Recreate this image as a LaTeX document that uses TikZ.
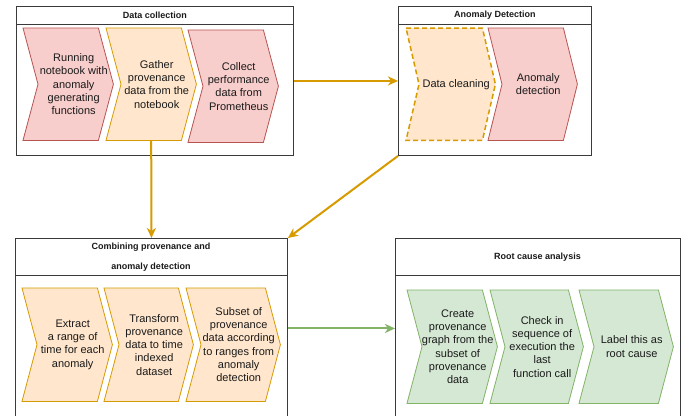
\documentclass[tikz,border=0pt]{standalone}
\usepackage{fontspec}
\setmainfont{Liberation Sans}
\usetikzlibrary{arrows.meta,backgrounds}
\definecolor{redfill}{HTML}{F8CECC}
\definecolor{redline}{HTML}{B85450}
\definecolor{orfill}{HTML}{FFE6CC}
\definecolor{orline}{HTML}{D79B00}
\definecolor{grfill}{HTML}{D5E8D4}
\definecolor{grline}{HTML}{82B366}
\definecolor{boxline}{HTML}{3A3A3A}
\definecolor{txt}{HTML}{1A1A1A}
\tikzset{
  lane/.style={draw=boxline, line width=0.9pt, fill=white, inner sep=0pt, anchor=north west},
  lanetitle/.style={font=\fontsize{9}{11}\selectfont\bfseries, text=txt, inner sep=0pt, align=center},
  chevbox/.style={inner sep=0pt, anchor=north west},
  redchev/.style={fill=redfill, draw=redline, line width=0.8pt, line join=miter},
  orchev/.style={fill=orfill, draw=orline, line width=0.8pt},
  orchevdash/.style={fill=orfill, draw=orline, line width=1.5pt, dash pattern=on 5pt off 3pt},
  grchev/.style={fill=grfill, draw=grline, line width=0.8pt},
  ctext/.style={font=\fontsize{11}{13.3}\selectfont, text=txt, align=center, inner sep=0pt},
  orarrow/.style={draw=orline, line width=2pt, -{Stealth[length=10pt,width=9pt,inset=3pt]}},
  grarrow/.style={draw=grline, line width=2pt, -{Stealth[length=10pt,width=9pt,inset=3pt]}},
}
% #1 name, #2 style, #3 left, #4 top, #5 total width, #6 height, #7 depth, #8 text
\newcommand\mychev[8]{%
  \node[chevbox, minimum width=#5, minimum height=#6] (#1) at (#3,#4) {};
  \draw[#2] (#1.north west) -- ([xshift=-#7pt]#1.north east) -- (#1.east)
     -- ([xshift=-#7pt]#1.south east) -- (#1.south west) -- ([xshift=#7pt]#1.west) -- cycle;
  \node[ctext] (#1-t) at ([xshift=5.5pt]#1.center) {#8};
}
\begin{document}
\begin{tikzpicture}[x=1pt,y=-1pt]
\useasboundingbox[fill=white] (0,0) rectangle (696,415);

% ---------- Data collection ----------
\node[lane, minimum width=277, minimum height=149] (dc) at (16,6) {};
\draw[boxline, line width=0.9pt] ([yshift=-18pt]dc.north west) -- ([yshift=-18pt]dc.north east);
\node[lanetitle] (dct) at ([yshift=-9.5pt]dc.north) {Data collection};
\mychev{c1}{redchev}{23}{28}{90}{112}{15}{Running\\notebook with\\anomaly\\generating\\functions}
\mychev{c2}{orchev}{106}{28}{90}{112}{15}{Gather\\provenance\\data from the\\notebook}
\mychev{c3}{redchev}{188}{30}{90}{112}{15}{Collect\\performance\\data from\\Prometheus}

% ---------- Anomaly Detection ----------
\node[lane, minimum width=193, minimum height=149] (ad) at (398,6) {};
\draw[boxline, line width=0.9pt] ([yshift=-18pt]ad.north west) -- ([yshift=-18pt]ad.north east);
\node[lanetitle] (adt) at ([yshift=-9.5pt]ad.north) {Anomaly Detection};
\mychev{a1}{orchevdash}{406}{28}{89}{112}{13}{Data cleaning}
\mychev{a2}{redchev}{488}{28}{89}{112}{14}{Anomaly\\detection}

% ---------- Combining ----------
\node[lane, minimum width=272, minimum height=180] (cb) at (15,238) {};
\draw[boxline, line width=0.9pt] ([yshift=-37pt]cb.north west) -- ([yshift=-37pt]cb.north east);
\node[lanetitle] (cbt1) at (151,247.5) {Combining provenance and};
\node[lanetitle] (cbt2) at (151,267.5) {anomaly detection};
\mychev{b1}{orchev}{22}{288}{90}{113}{15}{Extract\\a range of\\time for each\\anomaly}
\mychev{b2}{orchev}{104}{288}{89}{113}{15}{Transform\\provenance\\data to time\\indexed\\dataset}
\mychev{b3}{orchev}{186}{288}{94}{113}{15}{Subset of\\provenance\\data according\\to ranges from\\anomaly\\detection}

% ---------- Root cause analysis ----------
\node[lane, minimum width=285, minimum height=180] (rc) at (395,238) {};
\draw[boxline, line width=0.9pt] ([yshift=-37pt]rc.north west) -- ([yshift=-37pt]rc.north east);
\node[lanetitle] (rct) at (537.5,257) {Root cause analysis};
\mychev{r1}{grchev}{407}{290}{90}{113}{15}{Create\\provenance\\graph from the\\subset of\\provenance\\data}
\mychev{r2}{grchev}{490}{290}{93}{113}{15}{Check in\\sequence of\\execution the\\last\\function call}
\mychev{r3}{grchev}{579}{290}{94}{113}{15}{Label this as\\root cause}

% ---------- connectors ----------
\draw[orarrow] (dc.east) -- (ad.west);
\draw[orarrow] (c2.south) -- (cb.north);
\draw[orarrow] (ad.south west) -- (cb.north east);
\draw[grarrow] (cb.east) -- (rc.west);
\end{tikzpicture}
\end{document}
